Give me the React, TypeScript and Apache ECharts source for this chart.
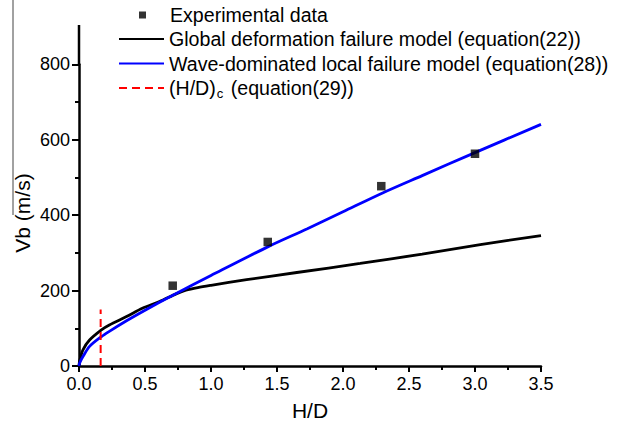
import React, { useEffect, useRef } from 'react';
import * as echarts from 'echarts';

const FONT = "'Liberation Sans', Arial, Helvetica, sans-serif";

// Experimental data
const expX = [0.71, 1.43, 2.29, 3.0];
const expY = [213, 329, 477, 563];

// Global deformation failure model (equation(22))
const globalX = [0, 0.005, 0.03, 0.08, 0.17, 0.23, 0.36, 0.48, 0.61, 0.74, 0.81, 0.9, 1.0, 1.27, 1.65, 2.13, 2.6, 3.04, 3.5];
const globalY = [0, 14, 43, 69, 96, 109, 131, 153, 171, 192, 201, 208, 214, 229, 248, 272, 297, 322, 346];

// Wave-dominated local failure model (equation(28))
const waveX = [0, 0.005, 0.03, 0.08, 0.17, 0.23, 0.36, 0.48, 0.61, 0.74, 1.0, 1.43, 1.73, 2.0, 2.3, 2.6, 3.0, 3.5];
const waveY = [0, 8, 25, 52, 78, 92, 120, 144, 169, 193, 240, 316, 364, 409, 459, 505, 566, 641];

// (H/D)c (equation(29))
const critX = [0.164, 0.164];
const critY = [0, 150];

const xTicks = { min: 0, max: 3.5, interval: 0.5 };
const yTicks = { min: 0, max: 800, interval: 200 };

const NAME_EXP = 'Experimental data';
const NAME_GLOBAL = 'Global deformation failure model (equation(22))';
const NAME_WAVE = 'Wave-dominated local failure model (equation(28))';
const NAME_CRIT = '(H/D)c (equation(29))';

const LEG_FS = 19.6;

const zip = (xs: number[], ys: number[]) => xs.map((x, i) => [x, ys[i]]);

export default function App() {
  const ref = useRef<HTMLDivElement>(null);
  useEffect(() => {
    if (!ref.current) return;
    const chart = echarts.init(ref.current, null, { renderer: 'svg' });
    const option: any = {
      animation: false,
      backgroundColor: '#ffffff',
      textStyle: { fontFamily: FONT },
      grid: { left: 79, top: 64.4, width: 462, height: 303.6 },
      legend: [
        {
          data: [NAME_EXP],
          left: 139,
          top: 3,
          padding: 0,
          orient: 'vertical',
          icon: 'rect',
          itemWidth: 7,
          itemHeight: 7,
          selectedMode: false,
          formatter: (n: string) => '{sp| }{t|' + n + '}',
          textStyle: {
            color: '#000',
            fontSize: LEG_FS,
            fontFamily: FONT,
            lineHeight: 24,
            rich: {
              sp: { width: 19, fontSize: LEG_FS, lineHeight: 24 },
              t: { color: '#000', fontSize: LEG_FS, fontFamily: FONT, lineHeight: 24 },
            },
          },
        },
        {
          data: [NAME_GLOBAL, NAME_WAVE, NAME_CRIT],
          left: 118,
          top: 27,
          padding: 0,
          orient: 'vertical',
          itemGap: 0.5,
          itemWidth: 45,
          itemHeight: 14,
          selectedMode: false,
          itemStyle: { opacity: 0 },
          formatter: (n: string) =>
            n === NAME_CRIT ? '{n|(H/D)}{s|c}{n| (equation(29))}' : '{n|' + n + '}',
          textStyle: {
            color: '#000',
            fontSize: LEG_FS,
            fontFamily: FONT,
            lineHeight: 24,
            rich: {
              n: { color: '#000', fontSize: LEG_FS, fontFamily: FONT, lineHeight: 24 },
              s: { color: '#000', fontSize: 13, fontFamily: FONT, lineHeight: 13, verticalAlign: 'bottom', padding: [0, 2, 0, 1] },
            },
          },
        },
      ],
      xAxis: {
        type: 'value',
        min: xTicks.min,
        max: xTicks.max,
        interval: xTicks.interval,
        name: 'H/D',
        nameLocation: 'middle',
        nameGap: 34,
        nameTextStyle: { color: '#000', fontSize: 21, fontFamily: FONT },
        axisLine: { show: true, onZero: false, lineStyle: { color: '#000', width: 2.5 } },
        axisTick: { show: true, length: 6, lineStyle: { color: '#000', width: 2 } },
        minorTick: { show: true, splitNumber: 2, length: 4, lineStyle: { color: '#000', width: 2 } },
        splitLine: { show: false },
        axisLabel: {
          color: '#000',
          fontSize: 18,
          fontFamily: FONT,
          margin: 9,
          formatter: (v: number) => v.toFixed(1),
        },
      },
      yAxis: {
        type: 'value',
        min: yTicks.min,
        max: yTicks.max,
        interval: yTicks.interval,
        axisLine: { show: true, onZero: false, lineStyle: { color: '#000', width: 2.5 } },
        axisTick: { show: true, length: 7, lineStyle: { color: '#000', width: 2 } },
        minorTick: { show: true, splitNumber: 2, length: 4, lineStyle: { color: '#000', width: 2 } },
        splitLine: { show: false },
        axisLabel: { color: '#000', fontSize: 18, fontFamily: FONT, margin: 9 },
      },
      graphic: [
        {
          type: 'line',
          shape: { x1: 79, y1: 25, x2: 79, y2: 65 },
          style: { stroke: '#000', lineWidth: 2.5 },
          silent: true,
        },
        {
          type: 'line',
          shape: { x1: 13, y1: 0, x2: 13, y2: 215 },
          style: { stroke: '#444', lineWidth: 1 },
          silent: true,
        },
        {
          type: 'text',
          x: 22,
          y: 213,
          rotation: Math.PI / 2,
          style: {
            text: 'Vb (m/s)',
            fill: '#000',
            fontSize: 21,
            fontFamily: FONT,
            textAlign: 'center',
            textVerticalAlign: 'middle',
          },
          silent: true,
        },
      ],
      series: [
        {
          name: NAME_GLOBAL,
          type: 'line',
          data: zip(globalX, globalY),
          symbol: 'none',
          smooth: 0.3,
          lineStyle: { color: '#000000', width: 2.8 },
          itemStyle: { color: '#000000' },
          z: 2,
        },
        {
          name: NAME_WAVE,
          type: 'line',
          data: zip(waveX, waveY),
          symbol: 'none',
          smooth: 0.3,
          lineStyle: { color: '#0000ff', width: 2.8 },
          itemStyle: { color: '#0000ff' },
          z: 3,
        },
        {
          name: NAME_CRIT,
          type: 'line',
          data: zip(critX, critY),
          symbol: 'none',
          lineStyle: { color: '#ff0000', width: 2, type: [8, 5] },
          itemStyle: { color: '#ff0000' },
          z: 4,
        },
        {
          name: NAME_EXP,
          type: 'scatter',
          data: zip(expX, expY),
          symbol: 'rect',
          symbolSize: 8.5,
          itemStyle: { color: '#000000' },
          z: 5,
        },
      ],
    };
    chart.setOption(option);
    return () => chart.dispose();
  }, []);
  return (
    <div
      ref={ref}
      style={{ position: 'absolute', left: 0, top: 0, width: 620, height: 426 }}
    />
  );
}
